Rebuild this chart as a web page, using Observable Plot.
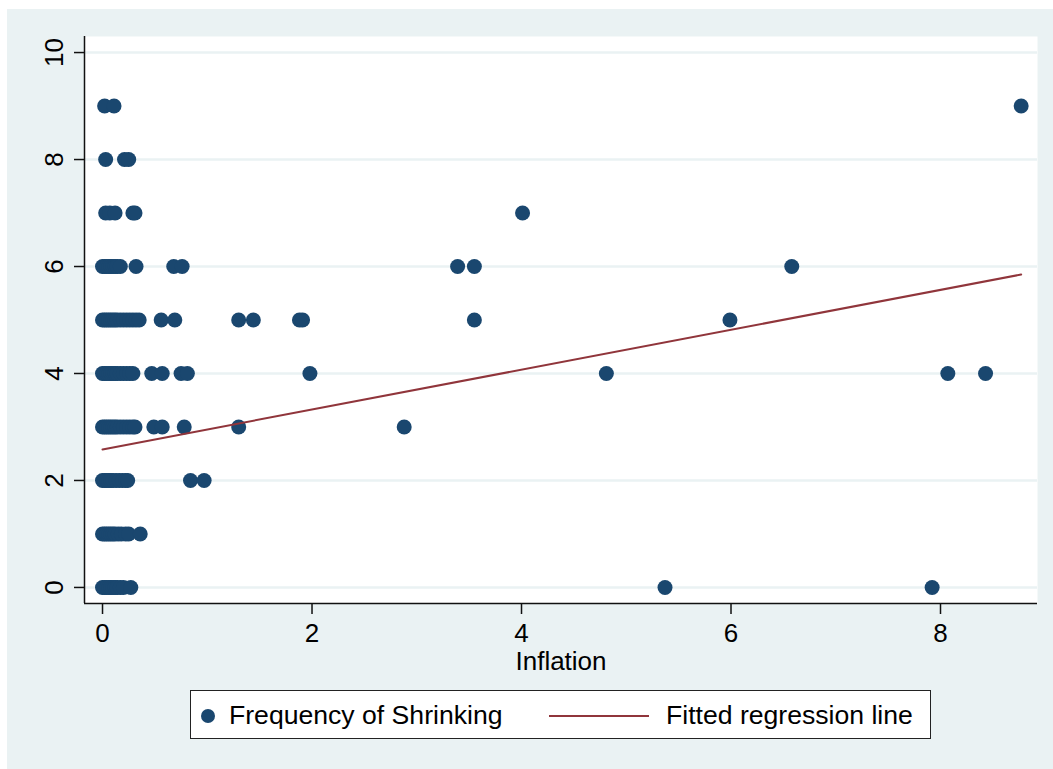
<!DOCTYPE html>
<html>
<head>
<meta charset="utf-8">
<script src="https://cdn.jsdelivr.net/npm/d3@7"></script>
<script src="https://cdn.jsdelivr.net/npm/@observablehq/plot@0.6"></script>
<style>
  html, body { margin: 0; padding: 0; background: #ffffff; }
  body { position: relative; width: 1053px; height: 769px; overflow: hidden;
         font-family: "Liberation Sans", Arial, Helvetica, sans-serif; }
  #bg { position: absolute; left: 7px; top: 9px; right: 0; bottom: 0; background: #EAF2F3; }
  #chart { position: absolute; left: 0; top: 0; }
  #legend { position: absolute; left: 190px; top: 690px; width: 739px; height: 47px;
            background: #fff; border: 1.5px solid #222; box-sizing: content-box; }
  #legend svg { position: absolute; left: 0; top: 0; }
  .lt { position: absolute; top: 0; line-height: 48px; font-size: 26.6px; color: #000; white-space: nowrap; }
</style>
</head>
<body>
<div id="bg"></div>
<div id="chart"></div>
<div id="legend"></div>
<script>
// ---- Data ----
const freqLevels = [0, 1, 2, 3, 4, 5, 6, 7, 8, 9];
// inflation values of the points on each frequency level
const inflAt0 = [0.00, 0.02, 0.04, 0.06, 0.08, 0.10, 0.12, 0.14, 0.17, 0.20, 0.27, 5.37, 7.92];
const inflAt1 = [0.00, 0.02, 0.04, 0.06, 0.08, 0.10, 0.12, 0.15, 0.18, 0.22, 0.25, 0.36];
const inflAt2 = [0.00, 0.02, 0.04, 0.06, 0.08, 0.10, 0.13, 0.16, 0.19, 0.22, 0.24, 0.84, 0.97];
const inflAt3 = [0.00, 0.02, 0.04, 0.06, 0.08, 0.10, 0.12, 0.14, 0.17, 0.20, 0.23, 0.26, 0.29, 0.31, 0.49, 0.57, 0.78, 1.30, 2.88];
const inflAt4 = [0.00, 0.02, 0.04, 0.06, 0.08, 0.10, 0.12, 0.14, 0.17, 0.20, 0.23, 0.26, 0.29, 0.47, 0.57, 0.75, 0.81, 1.98, 4.81, 8.07, 8.43];
const inflAt5 = [0.00, 0.02, 0.04, 0.06, 0.08, 0.10, 0.12, 0.14, 0.17, 0.20, 0.23, 0.26, 0.29, 0.32, 0.35, 0.56, 0.69, 1.30, 1.44, 1.88, 1.91, 3.55, 5.99];
const inflAt6 = [0.00, 0.02, 0.04, 0.06, 0.08, 0.10, 0.12, 0.14, 0.17, 0.32, 0.68, 0.76, 3.39, 3.55, 6.58];
const inflAt7 = [0.03, 0.07, 0.12, 0.29, 0.31, 4.01];
const inflAt8 = [0.03, 0.21, 0.25];
const inflAt9 = [0.02, 0.11, 8.77];
const inflationByLevel = [inflAt0, inflAt1, inflAt2, inflAt3, inflAt4, inflAt5, inflAt6, inflAt7, inflAt8, inflAt9];

// fitted regression line endpoints
const fitInflation = [0.00, 8.77];
const fitFrequency = [2.58, 5.85];

const xTicks = [0, 2, 4, 6, 8];
const yTicks = [0, 2, 4, 6, 8, 10];
const xDomain = [-0.172, 8.926];
const yDomain = [-0.3, 10.3];

const seriesLabels = ["Frequency of Shrinking", "Fitted regression line"];
const xTitle = "Inflation";

// ---- Build tables ----
const points = [];
freqLevels.forEach((f, i) => inflationByLevel[i].forEach(v => points.push({inflation: v, freq: f})));
const fit = fitInflation.map((v, i) => ({inflation: v, freq: fitFrequency[i]}));

const navy = "#1A476F";
const maroon = "#90353B";

const chart = Plot.plot({
  width: 1053,
  height: 680,
  marginLeft: 84,
  marginRight: 16,
  marginTop: 36,
  marginBottom: 77,
  style: {background: "transparent", fontFamily: "'Liberation Sans', Arial, Helvetica, sans-serif", fontSize: "26px", color: "#000"},
  x: {domain: xDomain},
  y: {domain: yDomain},
  marks: [
    Plot.frame({fill: "white", stroke: "none"}),
    Plot.gridY(yTicks, {stroke: "#EAF2F3", strokeOpacity: 1, strokeWidth: 2.5}),
    Plot.ruleX([xDomain[0]], {stroke: "#111", strokeWidth: 1.5}),
    Plot.ruleY([yDomain[0]], {stroke: "#111", strokeWidth: 1.5}),
    Plot.axisX({ticks: xTicks, tickSize: 11, tickPadding: 9, label: null, stroke: "#111", strokeWidth: 1.5, fontSize: 26}),
    Plot.axisY({ticks: yTicks, tickSize: 10, tickFormat: () => "", label: null, stroke: "#111", strokeWidth: 1.5}),
    Plot.text(yTicks, {y: d => d, text: d => String(d), frameAnchor: "left", dx: -30, rotate: -90,
                       textAnchor: "middle", lineAnchor: "middle", fontSize: 26, fill: "#000"}),
    Plot.text([xTitle], {frameAnchor: "bottom", dy: 58, lineAnchor: "middle", textAnchor: "middle", fontSize: 26, fill: "#000"}),
    Plot.dot(points, {x: "inflation", y: "freq", r: 7.5, fill: navy, stroke: "none"}),
    Plot.line(fit, {x: "inflation", y: "freq", stroke: maroon, strokeWidth: 2})
  ]
});
document.getElementById("chart").appendChild(chart);

// ---- Legend ----
const lg = document.getElementById("legend");
lg.innerHTML = `
<svg width="739" height="47">
  <circle cx="17" cy="25" r="7" fill="${navy}"></circle>
  <line x1="358" x2="458" y1="25" y2="25" stroke="${maroon}" stroke-width="2"></line>
</svg>
<div class="lt" style="left:38px">${seriesLabels[0]}</div>
<div class="lt" style="left:475px">${seriesLabels[1]}</div>`;
</script>
</body>
</html>
